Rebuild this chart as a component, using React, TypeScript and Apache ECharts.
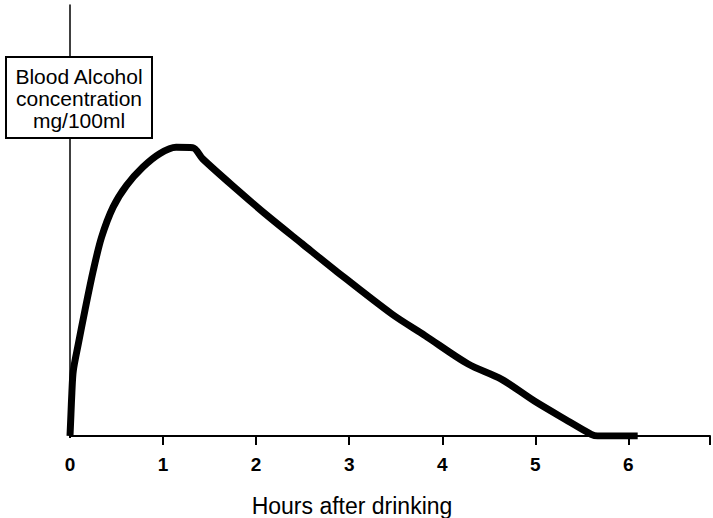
import React, { useEffect, useRef } from "react";
import * as echarts from "echarts";

const hours = [0, 0.01, 0.02, 0.035, 0.089, 0.16, 0.25, 0.339, 0.463, 0.606, 0.784, 0.963, 1.14, 1.32, 1.426, 1.783, 2.139, 2.495, 2.852, 3.458, 3.815, 4.278, 4.634, 4.99, 5.35, 5.6, 5.67, 6.1];
const concentration = [0, 5, 10, 15.1, 21.3, 29.1, 38.4, 46.1, 53.1, 58.1, 62.4, 65.5, 67.0, 66.9, 64.3, 57.4, 50.8, 44.6, 38.4, 28.3, 23.3, 16.7, 13.2, 8.1, 3.5, 0.4, 0, 0];
const xTicks = [0, 1, 2, 3, 4, 5, 6];
const boxLines = ["Blood Alcohol", "concentration", "mg/100ml"];
const xTitle = "Hours after drinking";

export default function App() {
  const ref = useRef<HTMLDivElement>(null);
  useEffect(() => {
    if (!ref.current) return;
    const chart = echarts.init(ref.current, undefined, { renderer: "svg" });
    const font = "'Liberation Sans', Arial, Helvetica, sans-serif";
    chart.setOption({
      animation: false,
      backgroundColor: "#ffffff",
      grid: { left: 70, right: 0, top: 5, bottom: 82, containLabel: false },
      xAxis: {
        type: "value",
        min: 0,
        max: 6.877,
        interval: 1,
        splitLine: { show: false },
        axisLine: { show: true, lineStyle: { color: "#000", width: 2 } },
        axisTick: { show: true, length: 9, inside: false, lineStyle: { color: "#000", width: 2 } },
        axisLabel: {
          color: "#000",
          fontFamily: font,
          fontSize: 19,
          fontWeight: "bold",
          margin: 19,
          formatter: (v: number) => (xTicks.includes(v) ? String(v) : ""),
        },
      },
      yAxis: {
        type: "value",
        min: 0,
        max: 100,
        splitLine: { show: false },
        axisLine: { show: true, onZero: false, lineStyle: { color: "#000", width: 1.5 } },
        axisTick: { show: false },
        axisLabel: { show: false },
      },
      series: [
        {
          type: "line",
          data: hours.map((h, i) => [h, concentration[i]]),
          smooth: 0.3,
          showSymbol: false,
          lineStyle: { color: "#000", width: 7, cap: "butt", join: "round" },
          z: 3,
        },
      ],
      graphic: [
        {
          type: "rect",
          shape: { x: 66, y: 438, width: 8, height: 10 },
          style: { fill: "#fff" },
          z: 9,
        },
        {
          type: "group",
          z: 10,
          children: [
            {
              type: "rect",
              shape: { x: 6, y: 57, width: 146, height: 81 },
              style: { fill: "#fff", stroke: "#000", lineWidth: 2 },
              z: 10,
            },
            ...boxLines.map((t, i) => ({
              type: "text",
              x: 79,
              y: 76 + i * 22,
              z: 11,
              style: {
                text: t,
                fill: "#000",
                font: `21px ${font}`,
                textAlign: "center",
                textVerticalAlign: "middle",
              },
            })),
          ],
        },
        {
          type: "text",
          x: 352,
          y: 506,
          style: {
            text: xTitle,
            fill: "#000",
            font: `23px ${font}`,
            textAlign: "center",
            textVerticalAlign: "middle",
          },
        },
      ],
    });
    return () => chart.dispose();
  }, []);
  return (
    <div
      ref={ref}
      style={{ position: "fixed", left: 0, top: 0, width: 713, height: 518, background: "#fff" }}
    />
  );
}
